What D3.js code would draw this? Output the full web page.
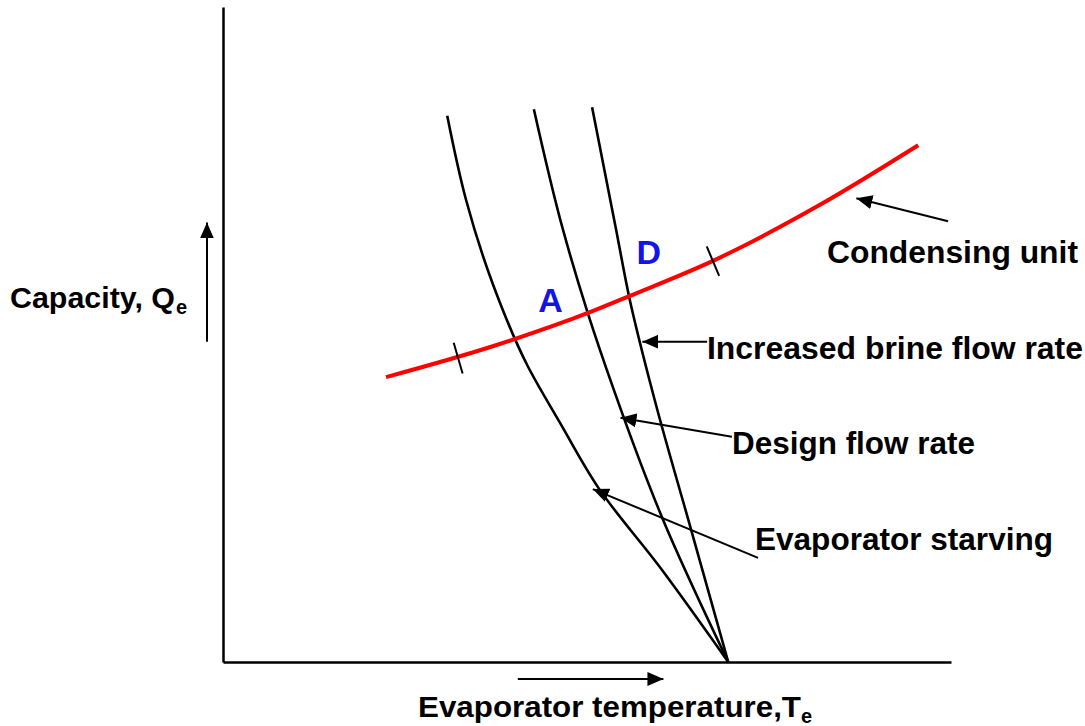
<!DOCTYPE html>
<html>
<head>
<meta charset="utf-8">
<script src="https://cdn.jsdelivr.net/npm/d3@7"></script>
<style>
  html, body { margin: 0; padding: 0; background: #fff; }
  svg { display: block; }
  text { font-family: "Liberation Sans", Arial, sans-serif; font-weight: bold; }
</style>
</head>
<body>
<svg id="chart" width="1085" height="726"></svg>
<script>
// ---- data (arbitrary 0-100 units) ----
const starvingX = [30.8, 33.4, 37.1, 41.8, 46.3, 51.5, 60.0, 69.4];
const starvingY = [83.4, 70.5, 57.6, 45.3, 36.5, 26.7, 14.5, 0];

const designX = [42.7, 46.7, 50.1, 53.7, 60.3, 69.4];
const designY = [84.4, 66.0, 53.3, 41.5, 22.1, 0];

const increasedX = [50.7, 54.0, 55.8, 59.3, 64.2, 69.4];
const increasedY = [84.7, 66.0, 55.7, 40.0, 20.6, 0];

const condensingX = [22.4, 37.6, 50.4, 55.9, 67.6, 82.0, 95.5];
const condensingY = [43.5, 48.4, 53.4, 55.9, 61.4, 69.8, 78.9];

const limitTickX = [32.3, 67.3];
const limitTickY = [46.4, 61.2];

const pointLabels = ["A", "D"];
const pointLabelX = [45.0, 58.5];
const pointLabelY = [53.5, 60.7];

const curveLabels = ["Condensing unit", "Increased brine flow rate", "Design flow rate", "Evaporator starving"];
const labelTailX = [99.6, 66.5, 69.9, 73.5];
const labelTailY = [67.3, 48.9, 34.4, 15.9];
const labelTipX  = [87.0, 57.6, 54.6, 50.8];
const labelTipY  = [70.8, 48.9, 37.3, 26.4];

const xTitle = "Evaporator temperature,T";
const yTitle = "Capacity, Q";
const subscript = "e";

// ---- layout ----
const svg = d3.select("#chart");
const x = d3.scaleLinear().domain([0, 100]).range([223, 951]);
const y = d3.scaleLinear().domain([0, 100]).range([662, 7]);

const defs = svg.append("defs");
defs.append("marker")
  .attr("id", "head").attr("markerUnits", "userSpaceOnUse")
  .attr("viewBox", "0 0 16 14").attr("refX", 16).attr("refY", 7)
  .attr("markerWidth", 16).attr("markerHeight", 14).attr("orient", "auto")
  .append("path").attr("d", "M0,0 L16,7 L0,14 Z").attr("fill", "#000");

// axes (no ticks)
const xAxis = d3.axisBottom(x).tickValues([]).tickSizeOuter(0);
const yAxis = d3.axisLeft(y).tickValues([]).tickSizeOuter(0);
svg.append("g").attr("transform", `translate(0,${y(0)})`).call(xAxis)
  .select(".domain").attr("stroke", "#000").attr("stroke-width", 2.5);
svg.append("g").attr("transform", `translate(${x(0)},0)`).call(yAxis)
  .select(".domain").attr("stroke", "#000").attr("stroke-width", 2.5);

// direction arrows beside the axes
svg.append("line")
  .attr("x1", x(0) - 16).attr("y1", y(48.9)).attr("x2", x(0) - 16).attr("y2", y(67.1))
  .attr("stroke", "#000").attr("stroke-width", 2).attr("marker-end", "url(#head)");
svg.append("line")
  .attr("x1", x(40.5)).attr("y1", y(0) + 17).attr("x2", x(60.5)).attr("y2", y(0) + 17)
  .attr("stroke", "#000").attr("stroke-width", 2).attr("marker-end", "url(#head)");

const zip = (a, b) => a.map((v, i) => [v, b[i]]);
const lineY = d3.line().x(d => x(d[0])).y(d => y(d[1])).curve(d3.curveMonotoneY);
const lineX = d3.line().x(d => x(d[0])).y(d => y(d[1])).curve(d3.curveMonotoneX);

[[starvingX, starvingY], [designX, designY], [increasedX, increasedY]].forEach(([xs, ys]) => {
  svg.append("path").datum(zip(xs, ys)).attr("d", lineY)
    .attr("fill", "none").attr("stroke", "#000").attr("stroke-width", 2.6)
    .attr("stroke-linejoin", "round");
});

svg.append("path").datum(zip(condensingX, condensingY)).attr("d", lineX)
  .attr("fill", "none").attr("stroke", "#ff0000").attr("stroke-width", 4);

// limit ticks on the condensing unit curve
const redPts = zip(condensingX, condensingY).map(p => [x(p[0]), y(p[1])]);
limitTickX.forEach((tx, i) => {
  const cx = x(tx), cy = y(limitTickY[i]);
  let k = 0; while (k < redPts.length - 2 && redPts[k + 1][0] < cx) k++;
  const dx = redPts[k + 1][0] - redPts[k][0], dy = redPts[k + 1][1] - redPts[k][1];
  const len = Math.hypot(dx, dy);
  const nx = -dy / len, ny = dx / len, h = 16;
  svg.append("line")
    .attr("x1", cx - nx * h).attr("y1", cy - ny * h)
    .attr("x2", cx + nx * h).attr("y2", cy + ny * h)
    .attr("stroke", "#000").attr("stroke-width", 2);
});

// point labels
pointLabels.forEach((t, i) => {
  svg.append("text").attr("x", x(pointLabelX[i])).attr("y", y(pointLabelY[i]))
    .attr("text-anchor", "middle").attr("font-size", 34).attr("fill", "#1414e6").text(t);
});

// leader arrows
curveLabels.forEach((t, i) => {
  svg.append("line")
    .attr("x1", x(labelTailX[i])).attr("y1", y(labelTailY[i]))
    .attr("x2", x(labelTipX[i])).attr("y2", y(labelTipY[i]))
    .attr("stroke", "#000").attr("stroke-width", 2).attr("marker-end", "url(#head)");
});

const labelPos = [[827, 263, 251], [707, 359, 376], [732, 454, 243], [755, 550, 298]];
curveLabels.forEach((t, i) => {
  svg.append("text").attr("x", labelPos[i][0]).attr("y", labelPos[i][1])
    .attr("font-size", 31).attr("fill", "#000")
    .attr("textLength", labelPos[i][2]).attr("lengthAdjust", "spacingAndGlyphs").text(t);
});

// axis titles
svg.append("text").attr("x", 10).attr("y", 308).attr("font-size", 29)
  .attr("textLength", 165).attr("lengthAdjust", "spacingAndGlyphs").text(yTitle);
svg.append("text").attr("x", 176).attr("y", 314).attr("font-size", 20).text(subscript);

svg.append("text").attr("x", 418).attr("y", 717).attr("font-size", 29)
  .attr("textLength", 383).attr("lengthAdjust", "spacingAndGlyphs").text(xTitle);
svg.append("text").attr("x", 801).attr("y", 723).attr("font-size", 20).text(subscript);
</script>
</body>
</html>
